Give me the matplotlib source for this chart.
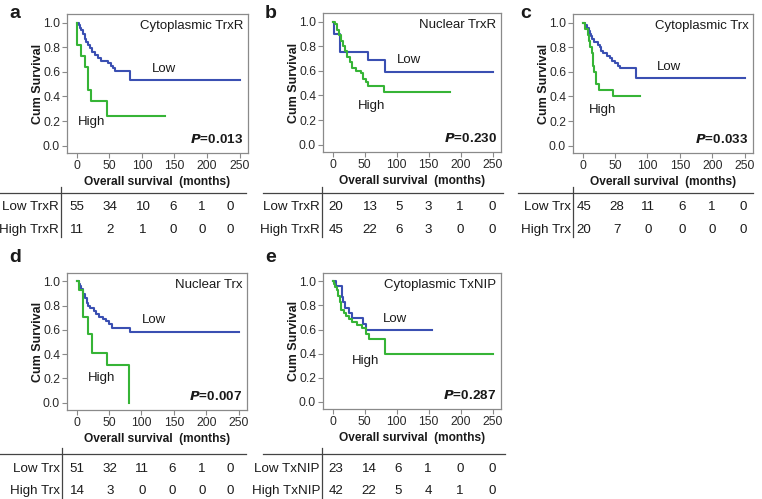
import matplotlib
matplotlib.use('Agg')
import matplotlib.pyplot as plt
from matplotlib.lines import Line2D

plt.rcParams['font.family'] = ['Liberation Sans', 'DejaVu Sans']

W, H = 762, 499

# ---------------- data ----------------
a_low_t = [0, 3, 5, 7, 10, 12, 14, 17, 20, 24, 28, 32, 37, 48, 52, 56, 58, 82]
a_low_s = [1.0, 0.98, 0.96, 0.94, 0.91, 0.87, 0.84, 0.82, 0.79, 0.76, 0.74, 0.71, 0.69, 0.67, 0.65, 0.63, 0.61, 0.53]
a_low_end = 250
a_high_t = [0, 1, 7, 12, 17, 22, 47]
a_high_s = [1.0, 0.82, 0.73, 0.64, 0.45, 0.36, 0.24]
a_high_end = 136

b_low_t = [0, 2, 12, 55, 82]
b_low_s = [1.0, 0.90, 0.75, 0.69, 0.59]
b_low_end = 250
b_high_t = [0, 4, 7, 10, 13, 16, 19, 22, 27, 30, 36, 45, 48, 52, 56, 81]
b_high_s = [1.0, 0.98, 0.93, 0.89, 0.84, 0.80, 0.76, 0.71, 0.67, 0.62, 0.60, 0.58, 0.53, 0.51, 0.48, 0.43]
b_high_end = 184

c_low_t = [0, 3, 6, 9, 12, 13, 15, 18, 24, 26, 28, 32, 37, 42, 46, 50, 55, 57, 82]
c_low_s = [1.0, 0.98, 0.96, 0.93, 0.91, 0.89, 0.87, 0.84, 0.82, 0.80, 0.77, 0.75, 0.73, 0.71, 0.69, 0.67, 0.65, 0.63, 0.55]
c_low_end = 250
c_high_t = [0, 3, 8, 10, 12, 14, 16, 18, 20, 25, 47]
c_high_s = [1.0, 0.95, 0.90, 0.85, 0.80, 0.75, 0.65, 0.60, 0.50, 0.45, 0.40]
c_high_end = 89

d_low_t = [0, 3, 5, 7, 10, 13, 16, 18, 21, 26, 30, 34, 40, 46, 50, 55, 82]
d_low_s = [1.0, 0.98, 0.96, 0.94, 0.90, 0.86, 0.82, 0.80, 0.78, 0.76, 0.73, 0.71, 0.69, 0.67, 0.65, 0.62, 0.58]
d_low_end = 250
d_high_t = [0, 3, 10, 17, 24, 47, 80]
d_high_s = [1.0, 0.93, 0.71, 0.57, 0.41, 0.31, 0.0]
d_high_end = 80

e_low_t = [0, 5, 15, 17, 20, 25, 30, 47, 52]
e_low_s = [1.0, 0.96, 0.87, 0.83, 0.78, 0.74, 0.70, 0.65, 0.60]
e_low_end = 155
e_high_t = [0, 2, 4, 7, 9, 11, 13, 18, 21, 25, 30, 38, 46, 52, 57, 82]
e_high_s = [1.0, 0.98, 0.95, 0.93, 0.88, 0.83, 0.76, 0.74, 0.71, 0.69, 0.66, 0.64, 0.61, 0.56, 0.52, 0.40]
e_high_end = 250

titles = ['Cytoplasmic TrxR', 'Nuclear TrxR', 'Cytoplasmic Trx', 'Nuclear Trx', 'Cytoplasmic TxNIP']
letters = ['a', 'b', 'c', 'd', 'e']
pvalues = ['0.013', '0.230', '0.033', '0.007', '0.287']
row_labels = [('Low TrxR', 'High TrxR'), ('Low TrxR', 'High TrxR'), ('Low Trx', 'High Trx'),
              ('Low Trx', 'High Trx'), ('Low TxNIP', 'High TxNIP')]
low_at_risk = [[55, 34, 10, 6, 1, 0], [20, 13, 5, 3, 1, 0], [45, 28, 11, 6, 1, 0],
               [51, 32, 11, 6, 1, 0], [23, 14, 6, 1, 0, 0]]
high_at_risk = [[11, 2, 1, 0, 0, 0], [45, 22, 6, 3, 0, 0], [20, 7, 0, 0, 0, 0],
                [14, 3, 0, 0, 0, 0], [42, 22, 5, 4, 1, 0]]
x_ticks = [0, 50, 100, 150, 200, 250]
y_ticks = [0.0, 0.2, 0.4, 0.6, 0.8, 1.0]

series = [
    (a_low_t, a_low_s, a_low_end, a_high_t, a_high_s, a_high_end),
    (b_low_t, b_low_s, b_low_end, b_high_t, b_high_s, b_high_end),
    (c_low_t, c_low_s, c_low_end, c_high_t, c_high_s, c_high_end),
    (d_low_t, d_low_s, d_low_end, d_high_t, d_high_s, d_high_end),
    (e_low_t, e_low_s, e_low_end, e_high_t, e_high_s, e_high_end),
]

# ---------------- layout (pixels) ----------------
boxes = [(67, 14, 248, 153), (323, 13, 501, 152), (573, 14, 753, 153),
         (67, 273, 247, 410), (323, 273, 501, 409)]
letter_pos = [(15, 13), (271, 13), (526, 13), (15, 258), (271, 258)]
low_label_pos = [(116, 0.62), (100, 0.69), (115, 0.64), (100, 0.68), (78, 0.69)]
high_label_pos = [(2, 0.19), (40, 0.31), (10, 0.29), (18, 0.20), (30, 0.34)]
# table geometry
table_line_y = [193, 193, 193, 454, 454]
table_line_x = [(0, 246), (263, 503), (518, 753), (0, 246), (263, 505)]
divider_x = [61, 322, 573, 62, 322]
col_px = [[77, 110, 143, 173, 202, 230], [336, 370, 399, 428, 460, 492],
          [584, 617, 648, 682, 712, 743], [77, 110, 142, 172, 202, 230],
          [336, 369, 398, 428, 460, 492]]

BLUE = '#3a4fb2'
GREEN = '#36b436'
SPINE = '#8a8a8a'
TXT = '#1a1a1a'

fig = plt.figure(figsize=(W / 100, H / 100), dpi=100)


def fx(x):
    return x / W


def fy(y):
    return 1 - y / H


for i in range(5):
    l, t, r, b = boxes[i]
    ax = fig.add_axes([fx(l), fy(b), (r - l) / W, (b - t) / H])
    lt, ls, le, ht, hs, he = series[i]
    ax.step(lt + [le], ls + [ls[-1]], where='post', color=BLUE, lw=1.5)
    ax.step(ht + [he], hs + [hs[-1]], where='post', color=GREEN, lw=1.5)
    ax.set_xlim(-15, 263)
    ax.set_ylim(-0.06, 1.07)
    ax.set_xticks(x_ticks)
    ax.set_yticks(y_ticks)
    ax.set_yticklabels([f'{v:.1f}' for v in y_ticks])
    ax.tick_params(labelsize=8.7, colors=SPINE, labelcolor='#2a2a2a', length=3.5, width=0.8, pad=1.5)
    for s in ax.spines.values():
        s.set_color(SPINE)
        s.set_linewidth(0.9)
    ax.text(0.975, 0.955, titles[i], transform=ax.transAxes, ha='right', va='top',
            fontsize=9.5, color=TXT)
    ax.text(0.975, 0.05, r'$\bfit{P}$' + '=' + pvalues[i], transform=ax.transAxes,
            ha='right', va='bottom', fontsize=9.7, fontweight='bold', color=TXT)
    ax.text(low_label_pos[i][0], low_label_pos[i][1], 'Low', fontsize=9.5, color=TXT,
            ha='left', va='center')
    ax.text(high_label_pos[i][0], high_label_pos[i][1], 'High', fontsize=9.5, color=TXT,
            ha='left', va='center')
    # axis labels
    fig.text(fx((l + r) / 2), fy(b + 29), 'Overall survival  (months)', ha='center',
             va='center', fontsize=8.6, fontweight='bold', color=TXT)
    fig.text(fx(l - 29), fy((t + b) / 2), 'Cum Survival', ha='center', va='center',
             rotation=90, fontsize=9, fontweight='bold', color=TXT)
    fig.text(fx(letter_pos[i][0]), fy(letter_pos[i][1]), letters[i], ha='center',
             va='center', fontsize=14, fontweight='bold', color=TXT)
    # risk table
    ly = table_line_y[i]
    x0, x1 = table_line_x[i]
    fig.add_artist(Line2D([fx(x0), fx(x1)], [fy(ly), fy(ly)], color='#444444', lw=0.9))
    dx = divider_x[i]
    fig.add_artist(Line2D([fx(dx), fx(dx)], [fy(ly - 6), fy(ly + 44)], color='#444444', lw=0.9))
    y_low = ly + 14.5
    y_high = ly + 37
    fig.text(fx(dx - 2), fy(y_low), row_labels[i][0], ha='right', va='center',
             fontsize=9.6, color=TXT)
    fig.text(fx(dx - 2), fy(y_high), row_labels[i][1], ha='right', va='center',
             fontsize=9.6, color=TXT)
    for j in range(6):
        fig.text(fx(col_px[i][j]), fy(y_low), str(low_at_risk[i][j]), ha='center',
                 va='center', fontsize=9.6, color=TXT)
        fig.text(fx(col_px[i][j]), fy(y_high), str(high_at_risk[i][j]), ha='center',
                 va='center', fontsize=9.6, color=TXT)

fig.savefig('out.png', dpi=100, facecolor='white')
